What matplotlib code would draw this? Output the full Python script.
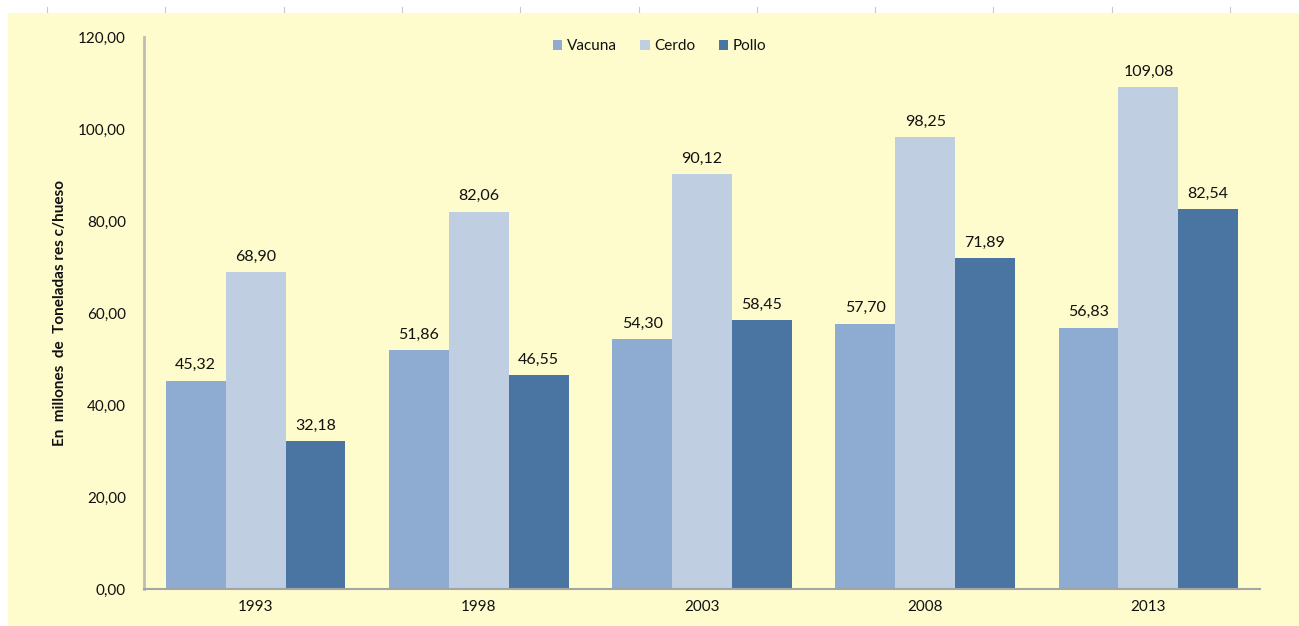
import matplotlib
matplotlib.use("Agg")
import matplotlib.pyplot as plt
from matplotlib.patches import Rectangle
from matplotlib.lines import Line2D
import numpy as np

plt.rcParams['font.family'] = ['Lato', 'DejaVu Sans']

years = ["1993", "1998", "2003", "2008", "2013"]
series_names = ["Vacuna", "Cerdo", "Pollo"]
vacuna = [45.32, 51.86, 54.30, 57.70, 56.83]
cerdo = [68.90, 82.06, 90.12, 98.25, 109.08]
pollo = [32.18, 46.55, 58.45, 71.89, 82.54]
colors = ["#8EABD1", "#BFCEE0", "#4A74A1"]
ylabel = "En  millones  de  Toneladas res c/hueso"
yticks = [0, 20, 40, 60, 80, 100, 120]

W, H = 1299, 626
fig = plt.figure(figsize=(W / 100, H / 100), dpi=100)
fig.patch.set_facecolor("white")

# yellow panel
fig.add_artist(Rectangle((8 / W, 0), 1 - 8 / W, 1 - 13 / H, transform=fig.transFigure,
                         facecolor="#FEFBCD", edgecolor="none", zorder=-10))
# small marks in the top white strip
for px in np.arange(47, 1299, 118.3):
    fig.add_artist(Line2D([px / W, px / W], [1 - 7 / H, 1 - 12 / H], transform=fig.transFigure,
                          color="#C8C8C8", lw=0.8, zorder=-10))

top_px = 37
ax = fig.add_axes([144 / W, 1 - 589 / H, (1260 - 144) / W, (589 - top_px) / H])
ax.set_facecolor("none")
ax.set_zorder(5)

x = np.arange(len(years)) + 0.5
bw = 0.268
data = [vacuna, cerdo, pollo]
for i, (name, vals, c) in enumerate(zip(series_names, data, colors)):
    xs = x + (i - 1) * bw
    ax.bar(xs, vals, width=bw, color=c, label=name, zorder=2)
    for xx, v in zip(xs, vals):
        ax.annotate(f"{v:.2f}".replace(".", ","), (xx, v), xytext=(0, 6),
                    textcoords="offset points", ha="center", va="bottom",
                    fontsize=11.5, color="#111111")

ax.set_xlim(0, len(years))
ax.set_ylim(0, 120)
ax.set_xticks(x)
ax.set_xticklabels(years, fontsize=11, color="#111111")
ax.set_yticks(yticks)
ax.set_yticklabels([f"{v:.2f}".replace(".", ",") for v in yticks], fontsize=11, color="#111111")
ax.tick_params(axis="both", length=0)
ax.tick_params(axis="y", pad=13)
ax.tick_params(axis="x", pad=8)
for s in ["top", "right"]:
    ax.spines[s].set_visible(False)
ax.spines["left"].set_color("#BDBDB3")
ax.spines["left"].set_linewidth(2)
ax.spines["bottom"].set_color("#A5A5A5")
ax.spines["bottom"].set_linewidth(1.5)

ax.set_ylabel(ylabel, fontsize=11, fontweight="bold", color="#111111")
ax.yaxis.set_label_coords((60 - 144) / 1116, 0.5)
ax.yaxis.label.set_va("center")

leg = ax.legend(loc="center", bbox_to_anchor=(0.462, 1 - 9 / 552), ncol=3, frameon=False,
                fontsize=11, handlelength=0.65, handleheight=0.65, handletextpad=0.3,
                columnspacing=1.5)
for t in leg.get_texts():
    t.set_color("#111111")

fig.savefig("out.png", dpi=100, facecolor=fig.get_facecolor())
